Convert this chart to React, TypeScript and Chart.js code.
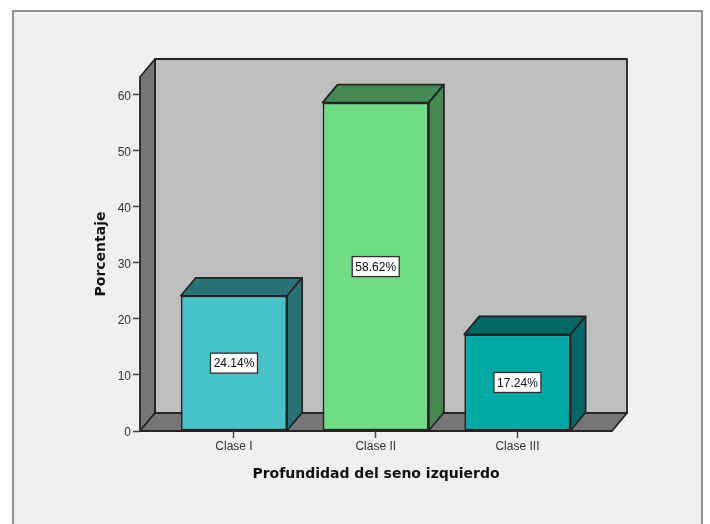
import React, { useEffect, useRef } from "react";
import { Chart, registerables } from "chart.js";

Chart.register(...registerables);

const categories = ["Clase I", "Clase II", "Clase III"];
const porcentajes = [24.14, 58.62, 17.24];
const frontColors = ["#47c3c8", "#70dd84", "#00a8a6"];
const shadeColors = ["#2c7378", "#458a55", "#006967"];
const yTicks = [0, 10, 20, 30, 40, 50, 60];

const DEPTH_X = 15;
const DEPTH_Y = 18;
const LINE = "#242424";

const poly = (ctx: CanvasRenderingContext2D, pts: number[][], fill: string, stroke = LINE, lw = 1.8) => {
  ctx.beginPath();
  pts.forEach(([x, y], i) => (i ? ctx.lineTo(x, y) : ctx.moveTo(x, y)));
  ctx.closePath();
  ctx.fillStyle = fill;
  ctx.fill();
  ctx.lineWidth = lw;
  ctx.lineJoin = "round";
  ctx.strokeStyle = stroke;
  ctx.stroke();
};

// Outer panel and the three walls of the 3D plot box.
const boxPlugin = {
  id: "box3d",
  beforeDraw(chart: any) {
    const { ctx, chartArea: a } = chart;
    ctx.save();
    ctx.fillStyle = "#ffffff";
    ctx.fillRect(0, 0, chart.width, chart.height);
    ctx.fillStyle = "#efefef";
    ctx.fillRect(13, 11, 689, 520);
    ctx.strokeStyle = "#5c5c5c";
    ctx.lineWidth = 1.3;
    ctx.strokeRect(13, 11, 689, 520);
    poly(ctx, [[a.left + DEPTH_X, a.top - DEPTH_Y], [a.right + DEPTH_X, a.top - DEPTH_Y], [a.right + DEPTH_X, a.bottom - DEPTH_Y], [a.left + DEPTH_X, a.bottom - DEPTH_Y]], "#bebebe");
    poly(ctx, [[a.left, a.top], [a.left + DEPTH_X, a.top - DEPTH_Y], [a.left + DEPTH_X, a.bottom - DEPTH_Y], [a.left, a.bottom]], "#767676");
    poly(ctx, [[a.left, a.bottom], [a.left + DEPTH_X, a.bottom - DEPTH_Y], [a.right + DEPTH_X, a.bottom - DEPTH_Y], [a.right, a.bottom]], "#767676");
    ctx.restore();
  },
  // Top and side faces sit behind each bar's front face.
  beforeDatasetsDraw(chart: any) {
    const { ctx } = chart;
    ctx.save();
    chart.getDatasetMeta(0).data.forEach((bar: any, i: number) => {
      const half = bar.width / 2;
      const l = bar.x - half;
      const r = bar.x + half;
      const t = bar.y;
      const b = bar.base;
      const c = shadeColors[i];
      poly(ctx, [[l, t], [l + DEPTH_X, t - DEPTH_Y], [r + DEPTH_X, t - DEPTH_Y], [r, t]], c);
      poly(ctx, [[r, t], [r + DEPTH_X, t - DEPTH_Y], [r + DEPTH_X, b - DEPTH_Y], [r, b]], c);
    });
    ctx.restore();
  },
  // Boxed percentage labels in the middle of each bar.
  afterDatasetsDraw(chart: any) {
    const { ctx } = chart;
    ctx.save();
    ctx.font = "12px 'Liberation Sans'";
    ctx.textAlign = "center";
    ctx.textBaseline = "middle";
    chart.getDatasetMeta(0).data.forEach((bar: any, i: number) => {
      const cy = (bar.y + bar.base) / 2;
      const w = 47;
      const h = 20;
      ctx.fillStyle = "#ffffff";
      ctx.fillRect(bar.x - w / 2, cy - h / 2, w, h);
      ctx.strokeStyle = "#2e2e2e";
      ctx.lineWidth = 1.3;
      ctx.strokeRect(bar.x - w / 2, cy - h / 2, w, h);
      ctx.fillStyle = "#0a0a0a";
      ctx.fillText(porcentajes[i].toFixed(2) + "%", bar.x, cy + 1);
    });
    ctx.restore();
  },
};

export default function App() {
  const ref = useRef<HTMLCanvasElement>(null);
  useEffect(() => {
    document.body.style.margin = "0";
    const chart = new Chart(ref.current!, {
      type: "bar",
      data: {
        datasets: [
          {
            data: porcentajes.map((y, x) => ({ x, y })),
            backgroundColor: frontColors,
            borderColor: LINE,
            borderWidth: 1.8,
            borderSkipped: false,
            barPercentage: 0.75,
            categoryPercentage: 1,
          },
        ],
      },
      options: {
        responsive: false,
        animation: false,
        layout: { padding: { left: 93, right: 98, top: 77, bottom: 41 } },
        plugins: { legend: { display: false }, tooltip: { enabled: false } },
        scales: {
          x: {
            type: "linear",
            offset: false,
            min: -0.663,
            max: 2.667,
            afterBuildTicks: (s: any) => {
              s.ticks = categories.map((_, value) => ({ value }));
            },
            afterFit: (s: any) => {
              s.height = 52;
            },
            grid: { offset: false, drawOnChartArea: false, tickLength: 7, tickColor: "#444444", tickWidth: 1.5 },
            border: { display: false },
            ticks: {
              maxRotation: 0,
              autoSkip: false,
              padding: 1,
              color: "#333333",
              font: { family: "'Liberation Sans'", size: 12 },
              callback: (v: any) => categories[v],
            },
            title: {
              display: true,
              text: "Profundidad del seno izquierdo",
              color: "#111111",
              font: { family: "'DejaVu Sans'", size: 14, weight: "bold" },
              padding: { top: 8, bottom: 0 },
            },
          },
          y: {
            min: 0,
            max: 63.2,
            afterBuildTicks: (s: any) => {
              s.ticks = yTicks.map((value) => ({ value }));
            },
            afterFit: (s: any) => {
              s.width = 47;
            },
            grid: { drawOnChartArea: false, tickLength: 7, tickColor: "#444444", tickWidth: 1.5 },
            border: { display: false },
            ticks: {
              padding: 2,
              labelOffset: 1.5,
              color: "#333333",
              font: { family: "'Liberation Sans'", size: 12 },
            },
            title: {
              display: true,
              text: "Porcentaje",
              color: "#111111",
              font: { family: "'DejaVu Sans'", size: 14, weight: "bold" },
              padding: { top: 0, bottom: 4 },
            },
          },
        },
      },
      plugins: [boxPlugin],
    } as any);
    return () => chart.destroy();
  }, []);
  return <canvas ref={ref} width={710} height={524} style={{ display: "block" }} />;
}
